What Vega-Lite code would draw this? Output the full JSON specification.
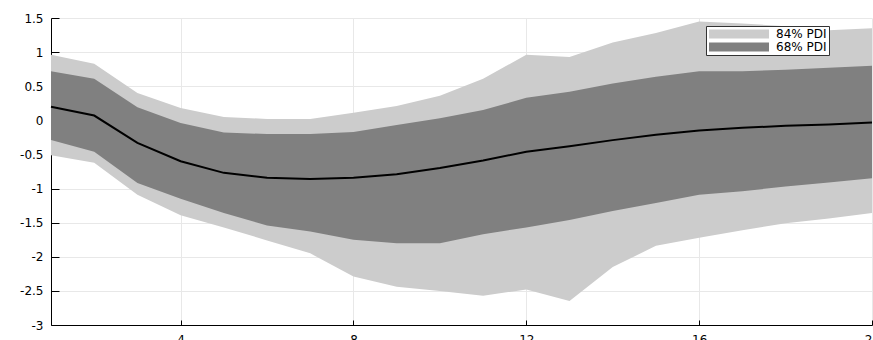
{
  "$schema": "https://vega.github.io/schema/vega-lite/v6.json",
  "width": 821,
  "height": 307,
  "autosize": {"type": "none"},
  "padding": {"left": 51, "top": 18, "right": 1, "bottom": 15},
  "config": {
    "view": {"stroke": null},
    "font": "Liberation Sans",
    "axis": {
      "labelFont": "DejaVu Sans",
      "labelFontSize": 12,
      "labelColor": "#000000",
      "domainColor": "#000000",
      "domainWidth": 1,
      "tickColor": "#000000",
      "gridColor": "#e8e8e8",
      "gridWidth": 1,
      "title": null
    },
    "axisY": {
      "values": [-3, -2.5, -2, -1.5, -1, -0.5, 0, 0.5, 1, 1.5],
      "grid": true,
      "tickSize": -8,
      "labelPadding": 16,
      "labelExpr": "toString(datum.value)",
      "labelFlush": false,
      "labelOverlap": false
    }
  },
  "data": {
    "values": [
      {"h": 1, "mean": 0.20, "lo68": -0.29, "hi68": 0.72, "lo84": -0.51, "hi84": 0.96},
      {"h": 2, "mean": 0.07, "lo68": -0.46, "hi68": 0.61, "lo84": -0.62, "hi84": 0.83},
      {"h": 3, "mean": -0.33, "lo68": -0.92, "hi68": 0.19, "lo84": -1.09, "hi84": 0.40},
      {"h": 4, "mean": -0.60, "lo68": -1.15, "hi68": -0.04, "lo84": -1.39, "hi84": 0.18},
      {"h": 5, "mean": -0.77, "lo68": -1.36, "hi68": -0.18, "lo84": -1.57, "hi84": 0.05},
      {"h": 6, "mean": -0.84, "lo68": -1.54, "hi68": -0.20, "lo84": -1.76, "hi84": 0.02},
      {"h": 7, "mean": -0.86, "lo68": -1.63, "hi68": -0.20, "lo84": -1.95, "hi84": 0.02},
      {"h": 8, "mean": -0.84, "lo68": -1.75, "hi68": -0.17, "lo84": -2.29, "hi84": 0.11},
      {"h": 9, "mean": -0.79, "lo68": -1.80, "hi68": -0.07, "lo84": -2.44, "hi84": 0.21},
      {"h": 10, "mean": -0.70, "lo68": -1.80, "hi68": 0.03, "lo84": -2.50, "hi84": 0.36},
      {"h": 11, "mean": -0.59, "lo68": -1.67, "hi68": 0.15, "lo84": -2.57, "hi84": 0.61},
      {"h": 12, "mean": -0.46, "lo68": -1.57, "hi68": 0.33, "lo84": -2.48, "hi84": 0.96},
      {"h": 13, "mean": -0.38, "lo68": -1.46, "hi68": 0.42, "lo84": -2.65, "hi84": 0.93},
      {"h": 14, "mean": -0.29, "lo68": -1.33, "hi68": 0.54, "lo84": -2.15, "hi84": 1.14},
      {"h": 15, "mean": -0.21, "lo68": -1.21, "hi68": 0.64, "lo84": -1.84, "hi84": 1.28},
      {"h": 16, "mean": -0.15, "lo68": -1.09, "hi68": 0.72, "lo84": -1.72, "hi84": 1.45},
      {"h": 17, "mean": -0.11, "lo68": -1.04, "hi68": 0.72, "lo84": -1.61, "hi84": 1.42},
      {"h": 18, "mean": -0.08, "lo68": -0.97, "hi68": 0.74, "lo84": -1.51, "hi84": 1.38},
      {"h": 19, "mean": -0.06, "lo68": -0.91, "hi68": 0.77, "lo84": -1.44, "hi84": 1.32},
      {"h": 20, "mean": -0.03, "lo68": -0.85, "hi68": 0.80, "lo84": -1.36, "hi84": 1.35}
    ]
  },
  "encoding": {
    "x": {
      "field": "h",
      "type": "quantitative",
      "scale": {"domain": [1, 20], "nice": false, "zero": false},
      "axis": {
        "values": [4, 8, 12, 16, 20],
        "grid": true,
        "tickSize": -5,
        "labelPadding": 14,
        "labelBaseline": "top",
        "labelExpr": "toString(datum.value)",
        "labelFlush": false
      }
    }
  },
  "layer": [
    {
      "mark": {"type": "area", "opacity": 1},
      "encoding": {
        "y": {
          "field": "lo84",
          "type": "quantitative",
          "scale": {"domain": [-3, 1.5], "nice": false, "zero": false}
        },
        "y2": {"field": "hi84"},
        "fill": {
          "datum": "84% PDI",
          "type": "nominal",
          "scale": {"domain": ["84% PDI", "68% PDI"], "range": ["#cccccc", "#808080"]},
          "legend": {
            "title": null,
            "orient": "none",
            "legendX": 655,
            "legendY": 8,
            "direction": "vertical",
            "fillColor": "#ffffff",
            "strokeColor": "#333333",
            "padding": 2,
            "symbolType": "M-1,-0.9H11V0.9H-1Z",
            "symbolSize": 100,
            "symbolStrokeWidth": 0,
            "symbolOpacity": 1,
            "labelFont": "DejaVu Sans",
            "labelFontSize": 12,
            "labelColor": "#000000",
            "labelOffset": 56,
            "rowPadding": 1
          }
        }
      }
    },
    {
      "mark": {"type": "area", "opacity": 1},
      "encoding": {
        "y": {"field": "lo68", "type": "quantitative"},
        "y2": {"field": "hi68"},
        "fill": {"datum": "68% PDI", "type": "nominal"}
      }
    },
    {
      "mark": {"type": "rule", "color": "#4a6890", "strokeWidth": 1.2},
      "encoding": {"y": {"datum": 0}}
    },
    {
      "mark": {"type": "line", "color": "#000000", "strokeWidth": 2},
      "encoding": {"y": {"field": "mean", "type": "quantitative"}}
    }
  ]
}
